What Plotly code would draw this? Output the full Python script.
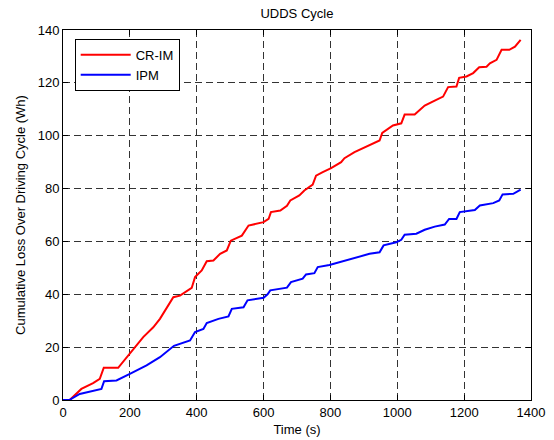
import plotly.graph_objects as go

# CR-IM cumulative loss
crim_t = [0, 20, 55, 90, 110, 122, 165, 200, 240, 270, 290, 330, 350, 385, 395, 415, 430, 450, 470, 490,
          502, 535, 555, 600, 615, 622, 650, 670, 680, 707, 722, 747, 757, 777, 802, 832, 842, 872, 912,
          947, 955, 987, 1012, 1022, 1052, 1082, 1112, 1137, 1152, 1177, 1185, 1207, 1227, 1245, 1267,
          1277, 1297, 1312, 1335, 1352, 1369]
crim_v = [0, 0, 4.2, 6.4, 8.0, 12.2, 12.2, 17.5, 23.8, 27.5, 30.7, 38.9, 39.5, 42.4, 46.5, 49, 52.5, 52.8,
          55.3, 56.6, 60.3, 62.2, 66, 67.3, 68.5, 71.1, 71.7, 73.5, 75.5, 77.4, 79.3, 81.5, 84.9, 86.2,
          87.7, 90, 91.5, 93.8, 96.3, 98.2, 101.1, 103.9, 104.7, 108, 108, 111.4, 113.3, 114.8, 118.4,
          118.6, 121.9, 122.4, 123.7, 125.9, 126.1, 127.4, 128.7, 132.5, 132.5, 133.7, 136.3]

# IPM cumulative loss
ipm_t = [0, 20, 50, 90, 115, 123, 160, 200, 250, 290, 310, 332, 380, 395, 420, 430, 465, 495, 505, 540,
         552, 600, 612, 620, 670, 682, 717, 727, 752, 762, 797, 827, 847, 882, 917, 947, 959, 997, 1012,
         1022, 1057, 1082, 1112, 1142, 1155, 1177, 1187, 1232, 1247, 1287, 1305, 1315, 1347, 1369]
ipm_v = [0, 0.1, 2.3, 3.3, 4.2, 7.1, 7.4, 9.9, 13.1, 16.2, 18.1, 20.5, 22.5, 25.7, 26.9, 29.1, 30.7, 31.6,
         34.5, 35.1, 37.7, 38.7, 40, 41.5, 42.5, 44.6, 45.9, 47.5, 48, 50.3, 51.1, 52.1, 53, 54, 55.3,
         55.9, 58.5, 59.7, 60.6, 62.5, 62.9, 64.4, 65.6, 66.4, 68.5, 68.5, 71.1, 71.9, 73.6, 74.5, 75.5,
         77.8, 78, 79.6]

x_ticks = [0, 200, 400, 600, 800, 1000, 1200, 1400]
y_ticks = [0, 20, 40, 60, 80, 100, 120, 140]

font = "Liberation Sans, Arial, Helvetica, sans-serif"
fs = 13

fig = go.Figure()
fig.add_trace(go.Scatter(x=crim_t, y=crim_v, mode="lines", name="CR-IM",
                         line=dict(color="#ff0000", width=2)))
fig.add_trace(go.Scatter(x=ipm_t, y=ipm_v, mode="lines", name="IPM",
                         line=dict(color="#0000ff", width=2)))

axis_common = dict(
    showline=True, linecolor="black", linewidth=1, mirror="ticks",
    ticks="inside", ticklen=5, tickcolor="black", tickwidth=1,
    showgrid=True, gridcolor="#333333", gridwidth=1, griddash="7px,4px",
    zeroline=False, automargin=False,
    tickfont=dict(size=fs, color="black", family=font),
)

fig.update_layout(
    width=554, height=440,
    margin=dict(l=63, r=23, t=30, b=40),
    paper_bgcolor="white", plot_bgcolor="white",
    font=dict(family=font, size=fs, color="black"),
    title=dict(text="UDDS Cycle", x=0.536, xanchor="center", y=0.969, yanchor="middle",
               font=dict(size=fs, color="black", family=font)),
    xaxis=dict(range=[0, 1400], tickvals=x_ticks, ticktext=[str(v) for v in x_ticks],
               title=dict(text="Time (s)", standoff=6, font=dict(size=fs)), **axis_common),
    yaxis=dict(range=[0, 140], tickvals=y_ticks, ticktext=[str(v) for v in y_ticks],
               title=dict(text="Cumulative Loss Over Driving Cycle (Wh)", standoff=9, font=dict(size=fs)),
               **axis_common),
    legend=dict(x=0.025, y=0.976, xanchor="left", yanchor="top",
                bgcolor="white", bordercolor="black", borderwidth=1,
                font=dict(size=fs, color="black", family=font),
                tracegroupgap=0, itemwidth=50),
    showlegend=True,
)

fig.write_html("out.html")
